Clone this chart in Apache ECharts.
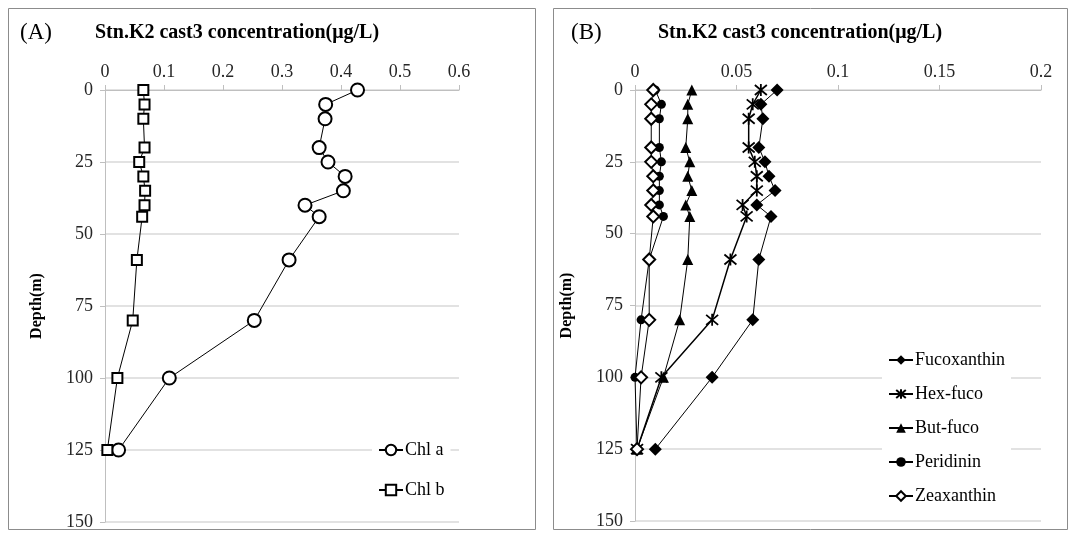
<!DOCTYPE html>
<html>
<head>
<meta charset="utf-8">
<script src="https://cdn.jsdelivr.net/npm/echarts@6/dist/echarts.min.js"></script>
<style>
  html, body { margin: 0; padding: 0; background: #fff; }
  #chart { width: 1074px; height: 534px; }
</style>
</head>
<body>
<div id="chart"></div>
<script>
// Sampling depths (m) at Stn.K2, cast 3
const depths = [0, 5, 10, 20, 25, 30, 35, 40, 44, 59, 80, 100, 125];

// Panel A: chlorophylls (µg/L)
const chlA = [0.428, 0.374, 0.373, 0.363, 0.378, 0.407, 0.404, 0.339, 0.363, 0.312, 0.253, 0.109, 0.023];
const chlB = [0.065, 0.067, 0.065, 0.067, 0.058, 0.065, 0.068, 0.067, 0.063, 0.054, 0.047, 0.021, 0.004];

// Panel B: marker pigments (µg/L)
const fucoxanthin = [0.070, 0.062, 0.063, 0.061, 0.064, 0.066, 0.069, 0.060, 0.067, 0.061, 0.058, 0.038, 0.010];
const hexFuco     = [0.062, 0.058, 0.056, 0.056, 0.059, 0.060, 0.060, 0.053, 0.055, 0.047, 0.038, 0.013, 0.001];
const butFuco     = [0.028, 0.026, 0.026, 0.025, 0.027, 0.026, 0.028, 0.025, 0.027, 0.026, 0.022, 0.014, 0.001];
const peridinin   = [0.010, 0.013, 0.012, 0.012, 0.013, 0.012, 0.012, 0.012, 0.014, 0.007, 0.003, 0.000, 0.001];
const zeaxanthin  = [0.009, 0.008, 0.008, 0.008, 0.008, 0.009, 0.009, 0.008, 0.009, 0.007, 0.007, 0.003, 0.001];

const titleText = 'Stn.K2 cast3 concentration(μg/L)';
const depthName = 'Depth(m)';

const SERIF = '"Liberation Serif", "DejaVu Serif", serif';
const GRID_LINE = '#d9d9d9';
const AXIS_LINE = '#bfbfbf';
const LABEL = '#262626';

// Star marker: an X crossed by a vertical stroke
const asterisk = 'path://M0,0L10,10M10,0L0,10M5,-1L5,11';

function pairs(values) {
  return values.map((v, i) => [v, depths[i]]);
}

function xAxisCfg(gridIndex, max, interval) {
  return {
    gridIndex, type: 'value', position: 'top', min: 0, max, interval,
    axisLine: { show: true, lineStyle: { color: AXIS_LINE, width: 1 } },
    axisTick: { show: true, inside: false, length: 5, lineStyle: { color: AXIS_LINE } },
    axisLabel: { color: LABEL, fontFamily: SERIF, fontSize: 18, margin: 9 },
    splitLine: { show: false }
  };
}

function yAxisCfg(gridIndex) {
  return {
    gridIndex, type: 'value', inverse: true, min: 0, max: 150, interval: 25,
    name: depthName, nameLocation: 'middle', nameRotate: 90, nameGap: 60,
    nameTextStyle: { color: '#000', fontFamily: SERIF, fontSize: 16, fontWeight: 'bold' },
    axisLine: { show: true, onZero: false, lineStyle: { color: AXIS_LINE, width: 1 } },
    axisTick: { show: true, inside: false, length: 5, lineStyle: { color: AXIS_LINE } },
    axisLabel: { color: LABEL, fontFamily: SERIF, fontSize: 18, margin: 12 },
    splitLine: { show: true, lineStyle: { color: GRID_LINE, width: 1.5 } }
  };
}

function line(name, idx, values, symbol, size, opts) {
  opts = opts || {};
  return {
    name, type: 'line', xAxisIndex: idx, yAxisIndex: idx,
    data: pairs(values),
    symbol, symbolSize: size,
    showAllSymbol: true,
    lineStyle: { color: '#000', width: opts.lineWidth || 1 },
    itemStyle: Object.assign({ color: '#000', borderColor: '#000', borderWidth: 1.8 }, opts.item || {}),
    emphasis: { disabled: true },
    animation: false
  };
}

const legendText = { fontFamily: SERIF, fontSize: 18, color: '#000', padding: [0, 0, 0, -3] };
const panelLabel = { fontFamily: SERIF, fontSize: 23, fontWeight: 'normal', color: '#000' };
const panelTitle = { fontFamily: SERIF, fontSize: 20, fontWeight: 'bold', color: '#000' };

const chart = echarts.init(document.getElementById('chart'), null, { renderer: 'canvas' });

chart.setOption({
  backgroundColor: '#fff',
  animation: false,
  title: [
    { text: '(A)', left: 15, top: 16, textStyle: panelLabel },
    { text: titleText, left: 90, top: 18, textStyle: panelTitle },
    { text: '(B)', left: 566, top: 16, textStyle: panelLabel },
    { text: titleText, left: 653, top: 18, textStyle: panelTitle }
  ],
  graphic: [
    { type: 'rect', shape: { x: 8.5, y: 8.5, width: 527, height: 521 }, style: { fill: 'none', stroke: '#8c8c8c', lineWidth: 1 }, z: -1 },
    { type: 'rect', shape: { x: 553.5, y: 8.5, width: 514, height: 521 }, style: { fill: 'none', stroke: '#8c8c8c', lineWidth: 1 }, z: -1 }
  ],
  grid: [
    { left: 105, top: 90, width: 354, height: 432 },
    { left: 635, top: 90, width: 406, height: 431 }
  ],
  xAxis: [xAxisCfg(0, 0.6, 0.1), xAxisCfg(1, 0.2, 0.05)],
  yAxis: [yAxisCfg(0), yAxisCfg(1)],
  legend: [
    {
      data: ['Chl a', 'Chl b'],
      orient: 'vertical', left: 372, top: 435,
      itemWidth: 24, itemHeight: 13, itemGap: 22,
      padding: [6, 6, 6, 6],
      backgroundColor: '#fff',
      textStyle: legendText,
      selectedMode: false
    },
    {
      data: ['Fucoxanthin', 'Hex-fuco', 'But-fuco', 'Peridinin', 'Zeaxanthin'],
      orient: 'vertical', left: 882, top: 345,
      itemWidth: 24, itemHeight: 12, itemGap: 16,
      padding: [6, 6, 6, 6],
      backgroundColor: '#fff',
      textStyle: legendText,
      selectedMode: false
    }
  ],
  series: [
    line('Chl a', 0, chlA, 'emptyCircle', 13, { item: { borderWidth: 2 } }),
    line('Chl b', 0, chlB, 'emptyRect', 10, { item: { borderWidth: 2 } }),
    line('Fucoxanthin', 1, fucoxanthin, 'diamond', 13, { item: { borderWidth: 0 } }),
    line('Hex-fuco', 1, hexFuco, asterisk, 12, { lineWidth: 1.5, item: { color: 'none', borderWidth: 1.8 } }),
    line('But-fuco', 1, butFuco, 'triangle', 11, { item: { borderWidth: 0 } }),
    line('Peridinin', 1, peridinin, 'circle', 9, { item: { borderWidth: 0 } }),
    line('Zeaxanthin', 1, zeaxanthin, 'emptyDiamond', 12, { item: { borderWidth: 2 } })
  ]
});
</script>
</body>
</html>
